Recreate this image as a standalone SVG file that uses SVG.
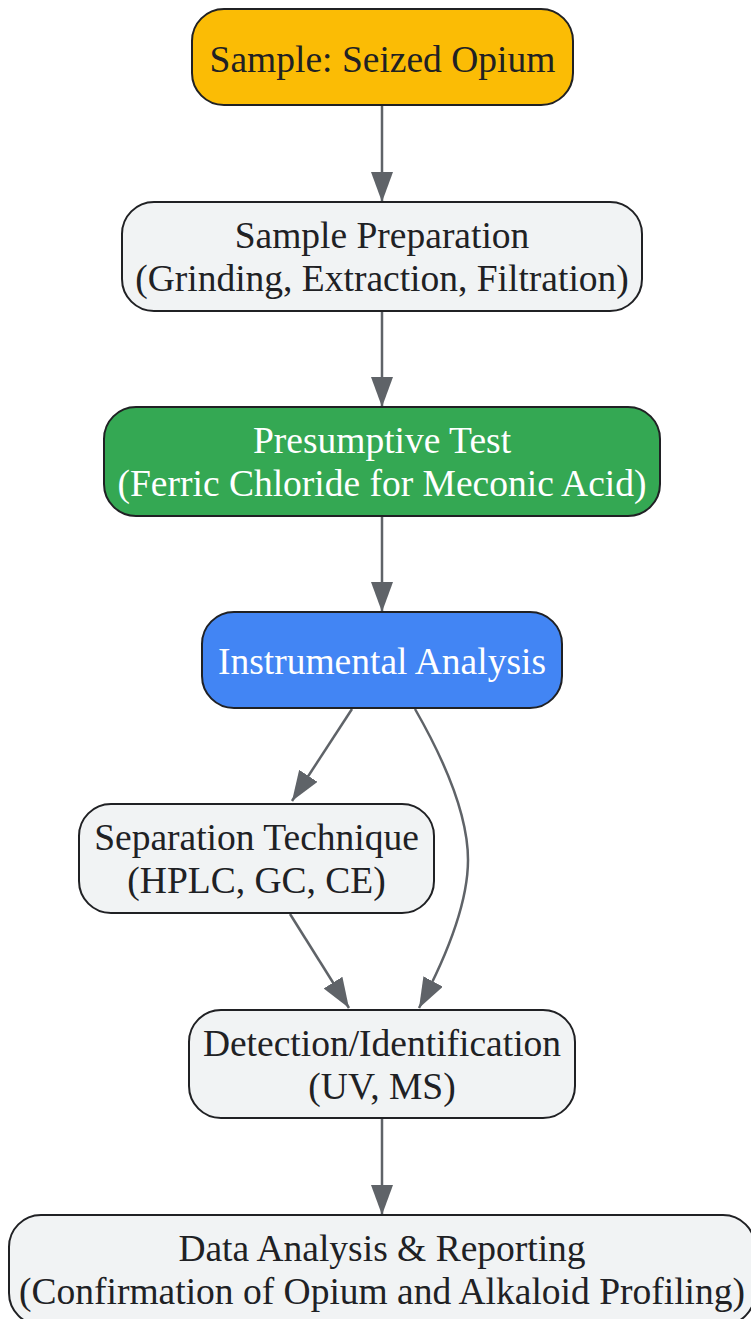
<svg xmlns="http://www.w3.org/2000/svg" width="751" height="1319" viewBox="0 0 751 1319">
<defs>
<style>
.node rect{stroke:#202124;stroke-width:2}
.node text{font-family:"Liberation Serif","Times New Roman",serif;font-size:37.5px;text-anchor:middle;fill:#202124}
.node text.w{fill:#ffffff}
.edge{fill:none;stroke:#5F6368;stroke-width:2.5}
</style>
<marker id="arr" viewBox="0 0 30 22" refX="30" refY="11" markerWidth="30" markerHeight="22" markerUnits="userSpaceOnUse" orient="auto">
<path d="M0,0 L30,11 L0,22 z" fill="#5F6368"/>
</marker>
</defs>
<rect width="751" height="1319" fill="#ffffff"/>
<g id="connectors">
<path class="edge" d="M382,105 L382,202" marker-end="url(#arr)"/>
<path class="edge" d="M382,311 L382,407" marker-end="url(#arr)"/>
<path class="edge" d="M382,516 L382,612" marker-end="url(#arr)"/>
<path class="edge" d="M352,709 L292,801" marker-end="url(#arr)"/>
<path class="edge" d="M415,709 C450,770 468,820 468,860 C468,900 450,950 419,1008" marker-end="url(#arr)"/>
<path class="edge" d="M290,914 L349,1008" marker-end="url(#arr)"/>
<path class="edge" d="M382,1118 L382,1215" marker-end="url(#arr)"/>
</g>
<g id="n1" class="node">
<rect x="192" y="9" width="381" height="96" rx="32" fill="#FBBC05"/>
<text x="382.5" y="72">Sample: Seized Opium</text>
</g>
<g id="n2" class="node">
<rect x="122" y="202" width="520" height="109" rx="32" fill="#F1F3F4"/>
<text x="382" y="248">Sample Preparation</text>
<text x="382" y="291">(Grinding, Extraction, Filtration)</text>
</g>
<g id="n3" class="node">
<rect x="104" y="407" width="556" height="109" rx="32" fill="#34A853"/>
<text class="w" x="382" y="453">Presumptive Test</text>
<text class="w" x="382" y="496">(Ferric Chloride for Meconic Acid)</text>
</g>
<g id="n4" class="node">
<rect x="202" y="612" width="360" height="96" rx="32" fill="#4285F4"/>
<text class="w" x="382" y="674">Instrumental Analysis</text>
</g>
<g id="n5" class="node">
<rect x="79" y="804" width="355" height="109" rx="32" fill="#F1F3F4"/>
<text x="256.5" y="850">Separation Technique</text>
<text x="256.5" y="893">(HPLC, GC, CE)</text>
</g>
<g id="n6" class="node">
<rect x="189" y="1010" width="386" height="108" rx="32" fill="#F1F3F4"/>
<text x="382" y="1056">Detection/Identification</text>
<text x="382" y="1099">(UV, MS)</text>
</g>
<g id="n7" class="node">
<rect x="9" y="1215" width="746" height="110" rx="32" fill="#F1F3F4"/>
<text x="382" y="1261">Data Analysis &amp; Reporting</text>
<text x="382" y="1304">(Confirmation of Opium and Alkaloid Profiling)</text>
</g>
</svg>
